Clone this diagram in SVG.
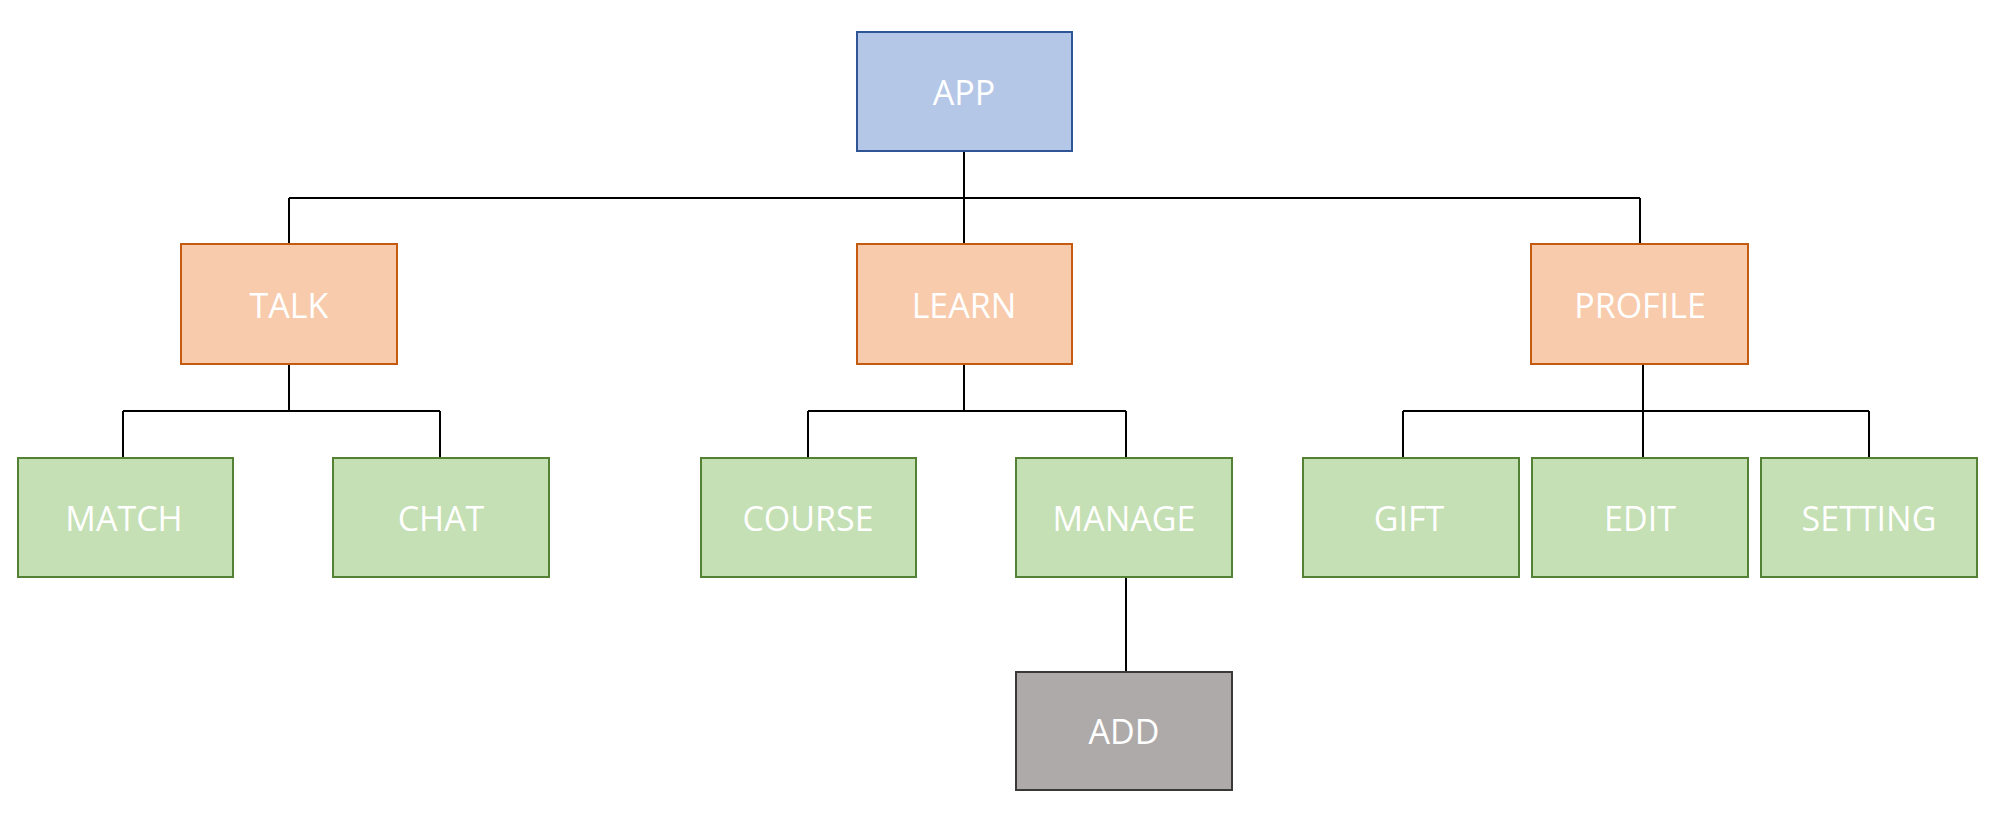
<svg xmlns="http://www.w3.org/2000/svg" width="2002" height="826" viewBox="0 0 2002 826">
<style>
.box{stroke-width:2}
.blue{fill:#B4C7E7;stroke:#2F5597}
.orange{fill:#F8CBAD;stroke:#C55A11}
.green{fill:#C5E0B4;stroke:#548235}
.gray{fill:#AEAAAA;stroke:#3B3838}
text{font-family:"Open Sans","Noto Sans",sans-serif;font-size:34px;fill:#FFFFFF;text-anchor:middle}
.conn{stroke:#000000;stroke-width:2;fill:none}
</style>
<rect width="2002" height="826" fill="#FFFFFF"/>
<g id="connectors" class="conn">
<path d="M964,151 V244"/>
<path d="M289,198 H1640"/>
<path d="M289,198 V244"/>
<path d="M1640,198 V244"/>
<path d="M289,365 V411"/>
<path d="M123,411 H440"/>
<path d="M123,411 V458"/>
<path d="M440,411 V458"/>
<path d="M964,365 V411"/>
<path d="M808,411 H1126"/>
<path d="M808,411 V458"/>
<path d="M1126,411 V458"/>
<path d="M1643,365 V458"/>
<path d="M1403,411 H1869"/>
<path d="M1403,411 V458"/>
<path d="M1869,411 V458"/>
<path d="M1126,577 V672"/>
</g>
<g id="app"><rect class="box blue" x="857" y="32" width="215" height="119"/><text x="964" y="105">APP</text></g>
<g id="talk"><rect class="box orange" x="181" y="244" width="216" height="120"/><text x="289" y="318">TALK</text></g>
<g id="learn"><rect class="box orange" x="857" y="244" width="215" height="120"/><text x="964" y="318">LEARN</text></g>
<g id="profile"><rect class="box orange" x="1531" y="244" width="217" height="120"/><text x="1640" y="318">PROFILE</text></g>
<g id="match"><rect class="box green" x="18" y="458" width="215" height="119"/><text x="124" y="531">MATCH</text></g>
<g id="chat"><rect class="box green" x="333" y="458" width="216" height="119"/><text x="441" y="531">CHAT</text></g>
<g id="course"><rect class="box green" x="701" y="458" width="215" height="119"/><text x="808" y="531">COURSE</text></g>
<g id="manage"><rect class="box green" x="1016" y="458" width="216" height="119"/><text x="1124" y="531">MANAGE</text></g>
<g id="gift"><rect class="box green" x="1303" y="458" width="216" height="119"/><text x="1409" y="531">GIFT</text></g>
<g id="edit"><rect class="box green" x="1532" y="458" width="216" height="119"/><text x="1640" y="531">EDIT</text></g>
<g id="setting"><rect class="box green" x="1761" y="458" width="216" height="119"/><text x="1869" y="531">SETTING</text></g>
<g id="add"><rect class="box gray" x="1016" y="672" width="216" height="118"/><text x="1124" y="744">ADD</text></g>
</svg>
